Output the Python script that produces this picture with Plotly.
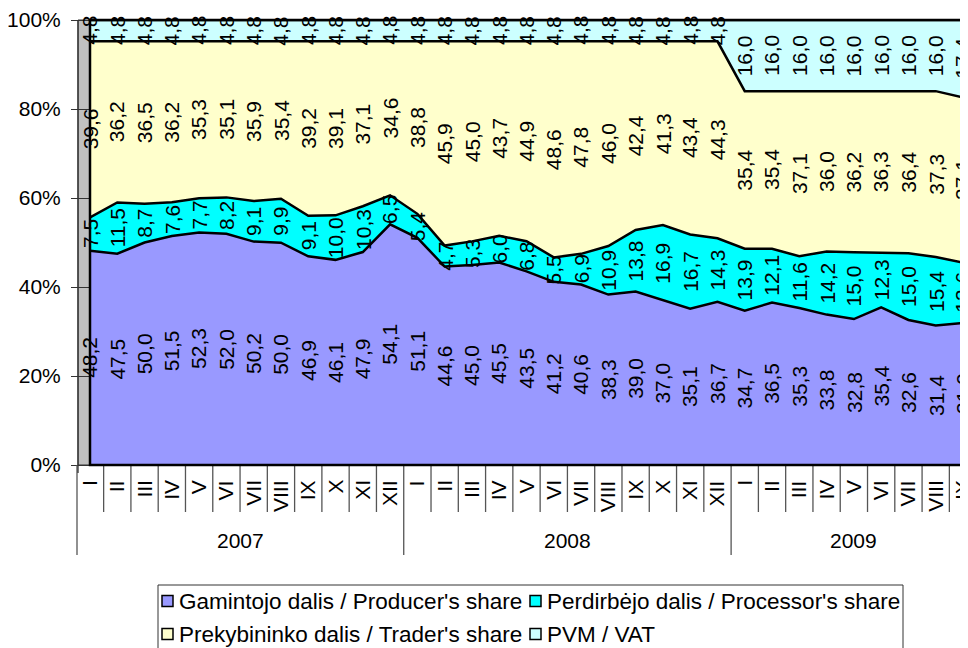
import plotly.graph_objects as go

# ---------------- data ----------------
months = ["I", "II", "III", "IV", "V", "VI", "VII", "VIII", "IX", "X", "XI", "XII"]
years = ["2007", "2008", "2009"]
month_labels = months + months + months[:9]

producer = [48.2, 47.5, 50.0, 51.5, 52.3, 52.0, 50.2, 50.0, 46.9, 46.1, 47.9, 54.1,
            51.1, 44.6, 45.0, 45.5, 43.5, 41.2, 40.6, 38.3, 39.0, 37.0, 35.1, 36.7,
            34.7, 36.5, 35.3, 33.8, 32.8, 35.4, 32.6, 31.4, 31.9]
processor = [7.5, 11.5, 8.7, 7.6, 7.7, 8.2, 9.1, 9.9, 9.1, 10.0, 10.3, 6.5,
             5.4, 4.7, 5.3, 6.0, 6.8, 5.5, 6.9, 10.9, 13.8, 16.9, 16.7, 14.3,
             13.9, 12.1, 11.6, 14.2, 15.0, 12.3, 15.0, 15.4, 13.6]
trader = [39.6, 36.2, 36.5, 36.2, 35.3, 35.1, 35.9, 35.4, 39.2, 39.1, 37.1, 34.6,
          38.8, 45.9, 45.0, 43.7, 44.9, 48.6, 47.8, 46.0, 42.4, 41.3, 43.4, 44.3,
          35.4, 35.4, 37.1, 36.0, 36.2, 36.3, 36.4, 37.3, 37.1]
vat = [4.8] * 24 + [16.0, 16.0, 16.0, 16.0, 16.0, 16.0, 16.0, 16.0, 17.4]

series_names = ["Gamintojo dalis / Producer's share",
                "Perdirbėjo dalis / Processor's share",
                "Prekybininko dalis / Trader's share",
                "PVM / VAT"]
y_ticks = [0, 20, 40, 60, 80, 100]
y_tick_text = ["0%", "20%", "40%", "60%", "80%", "100%"]

# ---------------- style ----------------
colors = ["#9999FF", "#00FFFF", "#FFFFCC", "#CCFFFF"]
FONT = "Liberation Sans, Arial, sans-serif"
OFF = 8                      # page body margin of the html page
W, H = 968 - OFF, 648 - OFF
PLOT_L, PLOT_R, PLOT_T, PLOT_B = 90, 963, 20, 465   # target page pixels
L, R, T, B = PLOT_L - OFF, W - (PLOT_R - OFF), PLOT_T - OFF, H - (PLOT_B - OFF)
PW, PH = PLOT_R - PLOT_L, PLOT_B - PLOT_T


def px(xp):
    return (xp - PLOT_L) / PW


def py(yp):
    return (PLOT_B - yp) / PH


series = [producer, processor, trader, vat]
xs = list(range(len(month_labels)))

fig = go.Figure()
for k, (name, vals, col) in enumerate(zip(series_names, series, colors)):
    fig.add_trace(go.Scatter(
        x=xs, y=vals, name=name, mode="lines", stackgroup="one",
        groupnorm="percent" if k == 0 else None,
        line=dict(color="black", width=2.5), fillcolor=col,
        showlegend=False, hoverinfo="skip"))

annotations = []
shapes = []

# data labels at band midpoints (normalised to 100%)
totals = [sum(v[i] for v in series) for i in xs]
for k, vals in enumerate(series):
    for i in xs:
        below = sum(series[j][i] for j in range(k))
        mid = (below + vals[i] / 2) / totals[i] * 100
        annotations.append(dict(
            x=i, y=mid, xref="x", yref="y", text=f"{vals[i]:.1f}".replace(".", ","),
            textangle=-90, showarrow=False, xanchor="center", yanchor="middle",
            font=dict(family=FONT, size=21, color="black")))

# month labels
for i, m in enumerate(month_labels):
    annotations.append(dict(
        x=i, y=py(478), xref="x", yref="paper", text=m, textangle=-90,
        showarrow=False, xanchor="center", yanchor="top",
        font=dict(family=FONT, size=21, color="black")))

# year labels
year_centers = [5.5, 17.5, 28]
for yc, yr in zip(year_centers, years):
    annotations.append(dict(
        x=yc, y=py(540), xref="x", yref="paper", text=yr, showarrow=False,
        xanchor="center", yanchor="middle",
        font=dict(family=FONT, size=21, color="black")))

# category separators
for i in range(1, len(month_labels)):
    year_sep = (i % 12 == 0)
    shapes.append(dict(type="line", xref="x", yref="paper",
                       x0=i - 0.5, x1=i - 0.5, y0=0,
                       y1=py(555) if year_sep else py(512),
                       line=dict(color="#555555", width=1.3)))
shapes.append(dict(type="line", xref="paper", yref="paper",
                   x0=px(77), x1=px(77), y0=0, y1=py(555),
                   line=dict(color="#555555", width=1.3)))

# 3D walls
shapes.append(dict(type="rect", xref="paper", yref="paper", x0=px(78), x1=0,
                   y0=0, y1=1, fillcolor="#C0C0C0", line=dict(color="#333333", width=1),
                   layer="below"))
shapes.append(dict(type="rect", xref="paper", yref="paper", x0=1, x1=px(975),
                   y0=0, y1=1, fillcolor="#C0C0C0", line=dict(color="#333333", width=1),
                   layer="below"))
# y axis line
shapes.append(dict(type="line", xref="paper", yref="paper", x0=px(78), x1=px(78),
                   y0=py(473), y1=1, line=dict(color="#333333", width=1.3)))
# plot frame
shapes.append(dict(type="rect", xref="paper", yref="paper", x0=0, x1=1, y0=0, y1=1,
                   line=dict(color="black", width=2.5), layer="above"))

# legend (drawn manually in a 2x2 grid)
shapes.append(dict(type="rect", xref="paper", yref="paper", x0=px(158), x1=px(903),
                   y0=py(585), y1=py(665), line=dict(color="#333333", width=1),
                   fillcolor="white"))
leg_pos = [(162, 601), (530, 601), (162, 634), (530, 634)]
for (lx, ly), name, col in zip(leg_pos, series_names, colors):
    shapes.append(dict(type="rect", xref="paper", yref="paper",
                       x0=px(lx), x1=px(lx + 11), y0=py(ly - 5.5), y1=py(ly + 5.5),
                       fillcolor=col, line=dict(color="black", width=1.5)))
    annotations.append(dict(x=px(lx + 15), y=py(ly), xref="paper", yref="paper",
                            text=name, showarrow=False, xanchor="left", yanchor="middle",
                            font=dict(family=FONT, size=22.5, color="black")))

fig.update_layout(
    width=W, height=H, margin=dict(l=L, r=R, t=T, b=B),
    paper_bgcolor="white", plot_bgcolor="white",
    xaxis=dict(range=[0, len(month_labels) - 1], showticklabels=False, showgrid=False,
               zeroline=False, ticks="", showline=False),
    yaxis=dict(range=[0, 100], tickvals=y_ticks, ticktext=y_tick_text, ticks="outside",
               ticklen=18, tickcolor="#333333", tickwidth=1, showgrid=False,
               zeroline=False, showline=False, automargin=False, ticklabelstandoff=6,
               tickfont=dict(family=FONT, size=21, color="black")),
    annotations=annotations, shapes=shapes, showlegend=False,
)

fig.write_html("out.html")
